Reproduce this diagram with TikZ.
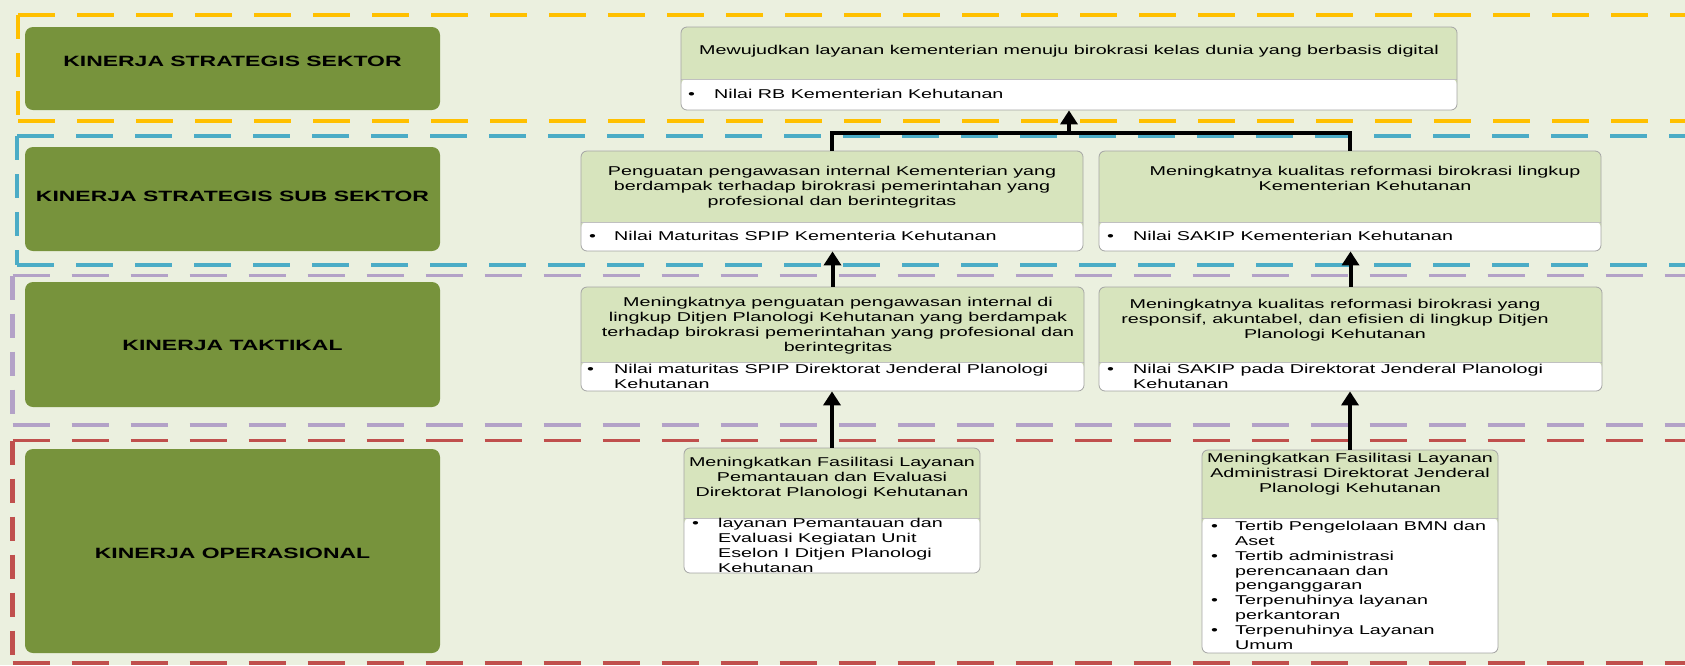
\documentclass[tikz,border=0pt]{standalone}
\usepackage{fontspec}
\setmainfont{Liberation Sans}[FakeStretch=1.54]
\usetikzlibrary{arrows.meta}
\definecolor{bgc}{HTML}{EBF0DF}
\definecolor{lvlgreen}{HTML}{77933C}
\definecolor{hdr}{HTML}{D7E4BD}
\definecolor{bord}{HTML}{A5A5A5}
\definecolor{cyel}{HTML}{FFC000}
\definecolor{cblue}{HTML}{4BACC6}
\definecolor{cpurp}{HTML}{B3A2C7}
\definecolor{cred}{HTML}{C0504D}
\tikzset{
  hline/.style={line width=3.3pt, dash pattern=on 37pt off 22pt},
  vline/.style={line width=4.4pt, dash pattern=on 24pt off 14pt},
  lvl/.style={fill=lvlgreen, rounded corners=8pt, inner sep=0pt,
    font=\fontsize{14.9}{17}\selectfont\bfseries, text=black},
  cbox/.style={draw=bord, line width=0.8pt, fill=hdr, rounded corners=6pt, inner sep=0pt,
    path picture={\fill[white] ([yshift=#1]path picture bounding box.south west) rectangle (path picture bounding box.south east);
      \draw[bord!70, line width=0.6pt] ([yshift=#1]path picture bounding box.south west) -- ([yshift=#1]path picture bounding box.south east);}},
  ttl/.style={anchor=north, align=center, inner sep=0pt, font=\fontsize{12.8}{14.8}\selectfont},
  blt/.style={anchor=north west, align=left, inner sep=0pt, font=\fontsize{12.8}{14.8}\selectfont},
  link/.style={line width=3.5pt, black},
  arr/.style={line width=4pt, black, -{Triangle[width=17pt,length=14pt]}},
}
\begin{document}
\begin{tikzpicture}[x=1pt,y=-1pt]
\fill[bgc] (0,0) rectangle (1685,665);
\useasboundingbox (0,0) rectangle (1685,665);
\clip (0,0) rectangle (1685,665);

% dashed level frames
\draw[cyel, hline] (18,15) -- (1700,15);
\draw[cyel, hline] (18,121) -- (1700,121);
\draw[cyel, vline] (18,15) -- (18,121);
\draw[cblue, hline] (17,136) -- (1700,136);
\draw[cblue, hline] (17,265) -- (1700,265);
\draw[cblue, vline] (17,136) -- (17,265);
\draw[cpurp, hline] (12.5,275.5) -- (1700,275.5);
\draw[cpurp, hline] (12.5,425) -- (1700,425);
\draw[cpurp, vline] (12.5,275.5) -- (12.5,425);
\draw[cred, hline] (12.5,440.5) -- (1700,440.5);
\draw[cred, hline] (12.5,663) -- (1700,663);
\draw[cred, vline] (12.5,440.5) -- (12.5,663);

% level labels
\node[lvl, minimum width=415pt, minimum height=83pt] (L1) at (232.5,68.5) {\raisebox{2pt}[0pt][0pt]{KINERJA STRATEGIS SEKTOR}};
\node[lvl, minimum width=415pt, minimum height=104pt] (L2) at (232.5,199) {\raisebox{-2.3pt}[0pt][0pt]{KINERJA STRATEGIS SUB SEKTOR}};
\node[lvl, minimum width=415pt, minimum height=125pt] (L3) at (232.5,344.5) {\raisebox{-5.8pt}[0pt][0pt]{KINERJA TAKTIKAL}};
\node[lvl, minimum width=415pt, minimum height=204pt] (L4) at (232.5,551) {\raisebox{-7.3pt}[0pt][0pt]{KINERJA OPERASIONAL}};

% strategic sector
\node[cbox=31pt, minimum width=776pt, minimum height=83pt] (T) at (1069,68.5) {};
\node[ttl] (Tt) at (1069,45.2) {Mewujudkan layanan kementerian menuju birokrasi kelas dunia yang berbasis digital};
\node[blt] (Tb) at (688,89.2) {\makebox[26pt][l]{\textbullet}Nilai RB Kementerian Kehutanan};

% strategic sub sector
\node[cbox=29pt, minimum width=502pt, minimum height=100pt] (SL) at (832,201) {};
\node[ttl] (SLt) at (832,166.2) {Penguatan pengawasan internal Kementerian yang\\berdampak terhadap birokrasi pemerintahan yang\\profesional dan berintegritas};
\node[blt] (SLb) at (589,231.2) {\makebox[25pt][l]{\textbullet}Nilai Maturitas SPIP Kementeria Kehutanan};

\node[cbox=29pt, minimum width=502pt, minimum height=100pt] (SR) at (1350,201) {};
\node[ttl] (SRt) at (1365,166.2) {Meningkatnya kualitas reformasi birokrasi lingkup\\Kementerian Kehutanan};
\node[blt] (SRb) at (1107,231.2) {\makebox[26pt][l]{\textbullet}Nilai SAKIP Kementerian Kehutanan};

% tactical
\node[cbox=29pt, minimum width=503pt, minimum height=104pt] (TL) at (832.5,339) {};
\node[ttl] (TLt) at (838,297.2) {Meningkatnya penguatan pengawasan internal di\\lingkup Ditjen Planologi Kehutanan yang berdampak\\terhadap birokrasi pemerintahan yang profesional dan\\berintegritas};
\node[blt] (TLb) at (587,364.2) {\makebox[27pt][l]{\textbullet}Nilai maturitas SPIP Direktorat Jenderal Planologi\\\hspace*{27pt}Kehutanan};

\node[cbox=29pt, minimum width=503pt, minimum height=104pt] (TR) at (1350.5,339) {};
\node[ttl] (TRt) at (1335,299.2) {Meningkatnya kualitas reformasi birokrasi yang\\responsif, akuntabel, dan efisien di lingkup Ditjen\\Planologi Kehutanan};
\node[blt] (TRb) at (1107,364.2) {\makebox[26pt][l]{\textbullet}Nilai SAKIP pada Direktorat Jenderal Planologi\\\hspace*{26pt}Kehutanan};

% operational
\node[cbox=55pt, minimum width=296pt, minimum height=125pt] (OL) at (832,510.5) {};
\node[ttl] (OLt) at (832,457.2) {Meningkatkan Fasilitasi Layanan\\Pemantauan dan Evaluasi\\Direktorat Planologi Kehutanan};
\node[blt] (OLb) at (692,518.2) {\makebox[26pt][l]{\textbullet}layanan Pemantauan dan\\\hspace*{26pt}Evaluasi Kegiatan Unit\\\hspace*{26pt}Eselon I Ditjen Planologi\\\hspace*{26pt}Kehutanan};

\node[cbox=135pt, minimum width=296pt, minimum height=203pt] (OR) at (1350,551.5) {};
\node[ttl] (ORt) at (1350,453.2) {Meningkatkan Fasilitasi Layanan\\Administrasi Direktorat Jenderal\\Planologi Kehutanan};
\node[blt] (ORb) at (1211,521.2) {\makebox[24pt][l]{\textbullet}Tertib Pengelolaan BMN dan\\\hspace*{24pt}Aset\\\makebox[24pt][l]{\textbullet}Tertib administrasi\\\hspace*{24pt}perencanaan dan\\\hspace*{24pt}penganggaran\\\makebox[24pt][l]{\textbullet}Terpenuhinya layanan\\\hspace*{24pt}perkantoran\\\makebox[24pt][l]{\textbullet}Terpenuhinya Layanan\\\hspace*{24pt}Umum};

% connectors
\coordinate (J) at (1069,133);
\draw[link] (SL.north) |- (J) -| (SR.north);
\draw[arr] (J) -- (T.south);
\draw[arr] (TL.north) -- (TL.north |- SL.south);
\draw[arr] (TR.north) -- (TR.north |- SR.south);
\draw[arr] (OL.north) -- (OL.north |- TL.south);
\draw[arr] (OR.north) -- (OR.north |- TR.south);
\end{tikzpicture}
\end{document}
